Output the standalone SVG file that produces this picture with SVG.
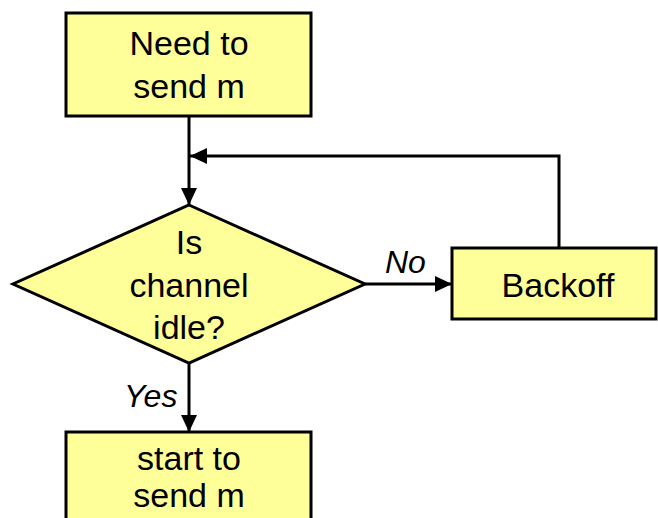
<svg xmlns="http://www.w3.org/2000/svg" width="658" height="518" viewBox="0 0 658 518">
  <defs>
    <marker id="arrow" markerWidth="18" markerHeight="16" refX="17" refY="8" orient="auto" markerUnits="userSpaceOnUse">
      <path d="M0,0 L17,8 L0,16 Z" fill="#000"/>
    </marker>
    <style>
      .box { fill: #FFFF99; stroke: #000; stroke-width: 3; }
      .lbl { font-family: "Liberation Sans", Arial, sans-serif; font-size: 34px; fill: #000; text-anchor: middle; }
      .edge-lbl { font-family: "Liberation Sans", Arial, sans-serif; font-size: 32px; font-style: italic; fill: #000; }
      .wire { fill: none; stroke: #000; stroke-width: 3; }
    </style>
  </defs>
  <rect width="658" height="518" fill="#fff"/>

  <g id="connectors">
    <line class="wire" x1="189" y1="116" x2="189" y2="205" marker-end="url(#arrow)"/>
    <polyline class="wire" points="559,248 559,156 190,156" marker-end="url(#arrow)"/>
    <line class="wire" x1="365" y1="284" x2="452" y2="284" marker-end="url(#arrow)"/>
    <line class="wire" x1="189" y1="363" x2="189" y2="432" marker-end="url(#arrow)"/>
    <text class="edge-lbl" x="385" y="273">No</text>
    <text class="edge-lbl" x="124" y="407">Yes</text>
  </g>

  <g id="need-to-send">
    <rect class="box" x="66" y="13" width="245" height="103"/>
    <text class="lbl" x="189" y="55">Need to</text>
    <text class="lbl" x="189" y="98">send m</text>
  </g>

  <g id="channel-idle">
    <polygon class="box" points="189,205 365,284 189,363 13,284"/>
    <text class="lbl" x="189" y="254">Is</text>
    <text class="lbl" x="189" y="297">channel</text>
    <text class="lbl" x="189" y="339">idle?</text>
  </g>

  <g id="backoff">
    <rect class="box" x="452" y="248" width="204" height="71"/>
    <text class="lbl" x="558" y="297">Backoff</text>
  </g>

  <g id="start-to-send">
    <rect class="box" x="66" y="432" width="245" height="100"/>
    <text class="lbl" x="189" y="470">start to</text>
    <text class="lbl" x="189" y="507">send m</text>
  </g>
</svg>
